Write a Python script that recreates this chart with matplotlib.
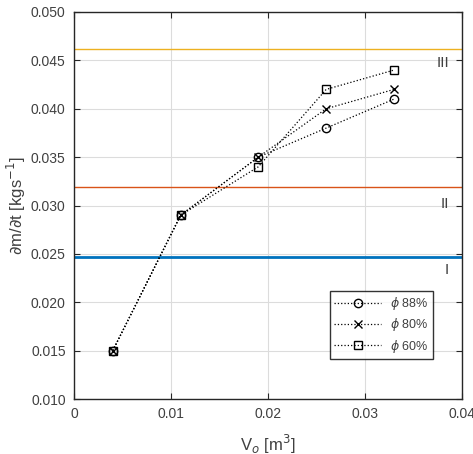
import matplotlib
matplotlib.use("Agg")
import matplotlib.pyplot as plt

# volume [m^3]
volume = [0.004, 0.011, 0.019, 0.026, 0.033]
# mass flow rate per humidity level
rate_88 = [0.015, 0.029, 0.035, 0.038, 0.041]
rate_80 = [0.015, 0.029, 0.035, 0.040, 0.042]
rate_60 = [0.015, 0.029, 0.034, 0.042, 0.044]
series_labels = [r"$\phi$ 88%", r"$\phi$ 80%", r"$\phi$ 60%"]
series_markers = ["o", "x", "s"]

# regime boundaries
limit_values = [0.0247, 0.0319, 0.0462]
limit_colors = ["#0072BD", "#D95319", "#EDB120"]
limit_widths = [2.0, 1.0, 1.0]
regime_labels = ["I", "II", "III"]
regime_y = [0.0233, 0.0302, 0.0447]

x_ticks = [0, 0.01, 0.02, 0.03, 0.04]
x_tick_labels = ["0", "0.01", "0.02", "0.03", "0.04"]
y_ticks = [0.010, 0.015, 0.020, 0.025, 0.030, 0.035, 0.040, 0.045, 0.050]

plt.rcParams["font.family"] = ["Liberation Sans", "DejaVu Sans"]
plt.rcParams["mathtext.fontset"] = "dejavusans"

fig = plt.figure(figsize=(4.73, 4.54), dpi=100)
ax = fig.add_axes([0.1564, 0.1211, 0.8203, 0.8525])

for value, color, width in zip(limit_values, limit_colors, limit_widths):
    ax.axhline(value, color=color, linewidth=width, zorder=2)

for values, marker, label in zip([rate_88, rate_80, rate_60], series_markers, series_labels):
    ax.plot(
        volume,
        values,
        linestyle=":",
        color="black",
        linewidth=0.9,
        marker=marker,
        markersize=6,
        markerfacecolor="none",
        markeredgecolor="black",
        markeredgewidth=1.0,
        label=label,
        zorder=3,
    )

for label, y in zip(regime_labels, regime_y):
    ax.text(0.0387, y, label, ha="right", va="center", fontsize=11, color="#404040")

ax.set_xlim(0, 0.04)
ax.set_ylim(0.010, 0.050)
ax.set_xticks(x_ticks)
ax.set_xticklabels(x_tick_labels)
ax.set_yticks(y_ticks)
ax.set_yticklabels([f"{v:.3f}" for v in y_ticks])
ax.grid(True, color="#dcdcdc", linewidth=0.8, zorder=0)
ax.set_axisbelow(True)
ax.tick_params(direction="in", top=True, right=True, length=4, width=0.8,
               labelsize=10, labelcolor="#404040", color="#262626", pad=6)
for spine in ax.spines.values():
    spine.set_linewidth(1.0)
    spine.set_color("#262626")

ax.set_xlabel(r"V$_o$ [m$^3$]", fontsize=12, color="#404040", labelpad=8)
ax.set_ylabel(r"$\partial$m/$\partial$t [kgs$^{-1}$]", fontsize=12, color="#404040", labelpad=2)

legend = ax.legend(
    loc="lower right",
    bbox_to_anchor=(0.925, 0.103),
    fontsize=9,
    frameon=True,
    fancybox=False,
    edgecolor="black",
    handlelength=3.8,
    handletextpad=0.7,
    labelspacing=0.35,
    borderpad=0.35,
    borderaxespad=0.0,
)
legend.get_frame().set_linewidth(1.0)
for text in legend.get_texts():
    text.set_color("#404040")

fig.savefig("out.png", dpi=100)
